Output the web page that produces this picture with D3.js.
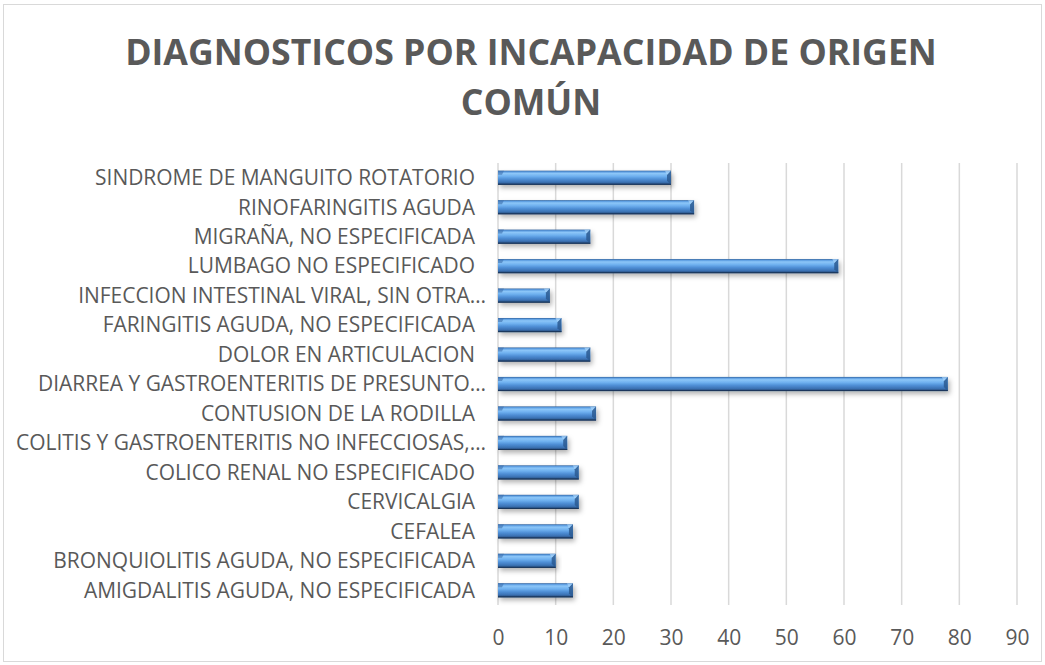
<!DOCTYPE html>
<html><head><meta charset="utf-8">
<script src="https://cdn.jsdelivr.net/npm/d3@7"></script>
<style>html,body{margin:0;padding:0;background:#fff;}</style>
</head><body>
<svg id="c" width="1045" height="665"></svg>
<script>
const titleLines = ["DIAGNOSTICOS POR INCAPACIDAD DE ORIGEN", "COMÚN"];
const categories = [
  "AMIGDALITIS AGUDA, NO ESPECIFICADA",
  "BRONQUIOLITIS AGUDA, NO ESPECIFICADA",
  "CEFALEA",
  "CERVICALGIA",
  "COLICO RENAL NO ESPECIFICADO",
  "COLITIS Y GASTROENTERITIS NO INFECCIOSAS,…",
  "CONTUSION DE LA RODILLA",
  "DIARREA Y GASTROENTERITIS DE PRESUNTO…",
  "DOLOR EN ARTICULACION",
  "FARINGITIS AGUDA, NO ESPECIFICADA",
  "INFECCION INTESTINAL VIRAL, SIN OTRA…",
  "LUMBAGO NO ESPECIFICADO",
  "MIGRAÑA, NO ESPECIFICADA",
  "RINOFARINGITIS AGUDA",
  "SINDROME DE MANGUITO ROTATORIO"
];
const values = [13, 10, 13, 14, 14, 12, 17, 78, 16, 11, 9, 59, 16, 34, 30];
const xTicks = [0, 10, 20, 30, 40, 50, 60, 70, 80, 90];

const svg = d3.select("#c");
const font = "'Open Sans', 'Noto Sans', sans-serif";
const textColor = "#595959";

// border
svg.append("rect").attr("x", 3.5).attr("y", 4.5).attr("width", 1038).attr("height", 657)
  .attr("fill", "#fff").attr("stroke", "#d9d9d9").attr("stroke-width", 1);

// defs
const defs = svg.append("defs");
const g1 = defs.append("linearGradient").attr("id", "barGrad").attr("x1", 0).attr("y1", 0).attr("x2", 0).attr("y2", 1);
[[0, "#2f5f98"], [0.08, "#5a9be0"], [0.2, "#8cc6f8"], [0.4, "#6eb0ef"], [0.6, "#4f8fd6"], [0.82, "#3b72b4"], [1, "#1f3f68"]]
  .forEach(([o, c]) => g1.append("stop").attr("offset", o).attr("stop-color", c));
const f = defs.append("filter").attr("id", "sh").attr("x", "-5%").attr("y", "-50%").attr("width", "115%").attr("height", "250%");
f.append("feDropShadow").attr("dx", 2).attr("dy", 3).attr("stdDeviation", 2.5).attr("flood-color", "#000").attr("flood-opacity", 0.3);

const x = d3.scaleLinear().domain([0, 90]).range([498, 1017]);
const y = d3.scaleBand().domain(categories).range([605, 163]).paddingInner(0.52).paddingOuter(0.26);

// gridlines
svg.append("g").selectAll("line").data(xTicks).join("line")
  .attr("x1", d => x(d)).attr("x2", d => x(d)).attr("y1", 163).attr("y2", 605)
  .attr("stroke", "#d9d9d9").attr("stroke-width", 1.5);

// x axis labels
const xAxis = d3.axisBottom(x).tickValues(xTicks).tickSize(0).tickPadding(0);
const ax = svg.append("g").attr("transform", "translate(0,630)").call(xAxis);
ax.select(".domain").remove();
ax.selectAll("text").attr("font-family", font).attr("font-size", 21).attr("fill", textColor).attr("dy", "0.71em");

// bars
const bars = svg.append("g").selectAll("g").data(categories).join("g");
bars.append("rect")
  .attr("x", x(0)).attr("y", d => y(d))
  .attr("width", (d, i) => x(values[i]) - x(0)).attr("height", y.bandwidth())
  .attr("fill", "url(#barGrad)").attr("filter", "url(#sh)");
// left bevel highlight
bars.append("path")
  .attr("d", d => {
    const x0 = x(0), y0 = y(d), b = 4;
    return `M${x0},${y0} L${x0 + b + 2},${y0} L${x0 + b},${y0 + b} L${x0},${y0 + b} Z`;
  }).attr("fill", "#3d6fae").attr("opacity", 0.6);
// right bevel
bars.append("path")
  .attr("d", (d, i) => {
    const x1 = x(values[i]), y0 = y(d), h = y.bandwidth(), b = 4;
    return `M${x1 - b},${y0 + b} L${x1},${y0} L${x1},${y0 + h} L${x1 - b},${y0 + h - b} Z`;
  }).attr("fill", "#2c5b92").attr("opacity", 0.85);
bars.append("path")
  .attr("d", (d, i) => {
    const x1 = x(values[i]), y0 = y(d), b = 4;
    return `M${x1 - b},${y0 + b} L${x1},${y0} L${x1 - 6},${y0} Z`;
  }).attr("fill", "#a9d4fa").attr("opacity", 0.7);
bars.append("line")
  .attr("x1", x(0)).attr("x2", (d, i) => x(values[i]))
  .attr("y1", d => y(d) + y.bandwidth() - 0.5).attr("y2", d => y(d) + y.bandwidth() - 0.5)
  .attr("stroke", "#1b365a").attr("stroke-width", 1);

// category labels
const labels = svg.append("g").selectAll("text").data(categories).join("text")
  .attr("x", d => d.endsWith("…") ? 486 : 475)
  .attr("y", d => y(d) + y.bandwidth() / 2)
  .attr("dy", "0.35em").attr("text-anchor", "end")
  .attr("font-family", font).attr("fill", textColor)
  .attr("font-size", 16).text(d => d);
const ref = labels.filter(d => d === "SINDROME DE MANGUITO ROTATORIO").node();
const w = ref.getComputedTextLength();
labels.attr("font-size", 16 * 380 / w);

// title
const t = svg.append("g").selectAll("text").data(titleLines).join("text")
  .attr("x", 531).attr("y", (d, i) => 65 + i * 50)
  .attr("text-anchor", "middle").attr("font-family", font).attr("font-weight", "bold")
  .attr("fill", textColor).attr("font-size", 36).text(d => d);
const tw = t.filter((d, i) => i === 0).node().getComputedTextLength();
t.attr("font-size", 36 * 812 / tw);
</script>
</body></html>
